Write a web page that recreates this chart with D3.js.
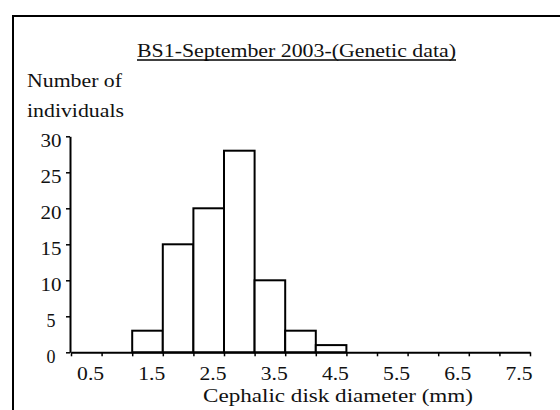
<!DOCTYPE html>
<html>
<head>
<meta charset="utf-8">
<script src="https://cdn.jsdelivr.net/npm/d3@7"></script>
<style>
  html, body { margin: 0; padding: 0; background: #fff; }
  svg { display: block; }
</style>
</head>
<body>
<script>
// Histogram of cephalic disk diameter, BS1 sample, September 2003
const binStarts = [1.0, 1.5, 2.0, 2.5, 3.0, 3.5, 4.0];   // lower edge of each bin (mm)
const binWidth = 0.5;                                     // bin width (mm)
const counts = [3, 15, 20, 28, 10, 3, 1];                 // individuals per bin
const xTickValues = [0, 0.5, 1, 1.5, 2, 2.5, 3, 3.5, 4, 4.5, 5, 5.5, 6, 6.5, 7, 7.5];
const xTickLabels = ["0.5", "1.5", "2.5", "3.5", "4.5", "5.5", "6.5", "7.5"];
const yTickValues = [0, 5, 10, 15, 20, 25, 30];

const titleText = "BS1-September 2003-(Genetic data)";
const yTitleLines = ["Number of", "individuals"];
const xTitleText = "Cephalic disk diameter (mm)";

const FONT = "'Liberation Serif', 'DejaVu Serif', 'Noto Serif', serif";

const W = 560, H = 410;
const svg = d3.select("body").append("svg").attr("width", W).attr("height", H)
  .attr("font-family", FONT).attr("fill", "#111");

// outer frame (runs past the right and bottom edges)
svg.append("path")
  .attr("d", "M13,420V16H580")
  .attr("fill", "none").attr("stroke", "#000").attr("stroke-width", 2);

const x = d3.scaleLinear().domain([0, 7.5]).range([71, 530]);
const y = d3.scaleLinear().domain([0, 30]).range([352.3, 136.3]);

// bars
svg.append("g").selectAll("rect")
  .data(binStarts.map((s, i) => ({ s, c: counts[i] })))
  .join("rect")
  .attr("x", d => x(d.s))
  .attr("y", d => y(d.c))
  .attr("width", d => x(d.s + binWidth) - x(d.s))
  .attr("height", d => y(0) - y(d.c))
  .attr("fill", "#fff")
  .attr("stroke", "#000")
  .attr("stroke-width", 2);

function styleText(sel) {
  sel.attr("font-family", FONT).attr("font-size", 19).attr("fill", "#111");
}

// x axis
const xAxis = svg.append("g")
  .attr("transform", `translate(0,${y(0)})`)
  .call(d3.axisBottom(x)
    .tickValues(xTickValues)
    .tickSize(4)
    .tickSizeOuter(0)
    .tickFormat(v => { const s = v.toFixed(1); return xTickLabels.includes(s) ? s : ""; }));
xAxis.attr("font-family", FONT);
xAxis.select(".domain").attr("stroke", "#000").attr("stroke-width", 2);
xAxis.selectAll(".tick line").attr("stroke", "#000").attr("stroke-width", 1.5);
xAxis.selectAll(".tick text")
  .call(styleText)
  .attr("text-anchor", "end")
  .attr("x", 2)
  .attr("y", 28)
  .attr("dy", 0)
  .each(function () {
    if (this.textContent) d3.select(this).attr("textLength", 27).attr("lengthAdjust", "spacingAndGlyphs");
  });

// y axis
const yAxis = svg.append("g")
  .attr("transform", `translate(${x(0) - 1},0)`)
  .call(d3.axisLeft(y)
    .tickValues(yTickValues)
    .tickSize(4)
    .tickSizeOuter(0)
    .tickFormat(d3.format("d")));
yAxis.attr("font-family", FONT);
yAxis.select(".domain").attr("stroke", "#000").attr("stroke-width", 2);
yAxis.selectAll(".tick line").attr("stroke", "#000").attr("stroke-width", 1.5);
yAxis.selectAll(".tick text")
  .call(styleText)
  .attr("text-anchor", "middle")
  .attr("x", -19)
  .attr("y", 10)
  .attr("dy", 0)
  .each(function () {
    const n = this.textContent.length;
    d3.select(this).attr("textLength", n > 1 ? 21 : 9).attr("lengthAdjust", "spacingAndGlyphs");
  });

// title with underline
svg.append("text")
  .attr("x", 137).attr("y", 57)
  .attr("textLength", 319).attr("lengthAdjust", "spacingAndGlyphs")
  .call(styleText)
  .text(titleText);
svg.append("line")
  .attr("x1", 137).attr("x2", 456).attr("y1", 60).attr("y2", 60)
  .attr("stroke", "#000").attr("stroke-width", 1.5);

// y axis title (two lines)
svg.append("text").attr("x", 27).attr("y", 87)
  .attr("textLength", 95).attr("lengthAdjust", "spacingAndGlyphs")
  .call(styleText).text(yTitleLines[0]);
svg.append("text").attr("x", 27).attr("y", 117)
  .attr("textLength", 97).attr("lengthAdjust", "spacingAndGlyphs")
  .call(styleText).text(yTitleLines[1]);

// x axis title
svg.append("text").attr("x", 203).attr("y", 402)
  .attr("textLength", 270).attr("lengthAdjust", "spacingAndGlyphs")
  .call(styleText).text(xTitleText);
</script>
</body>
</html>
